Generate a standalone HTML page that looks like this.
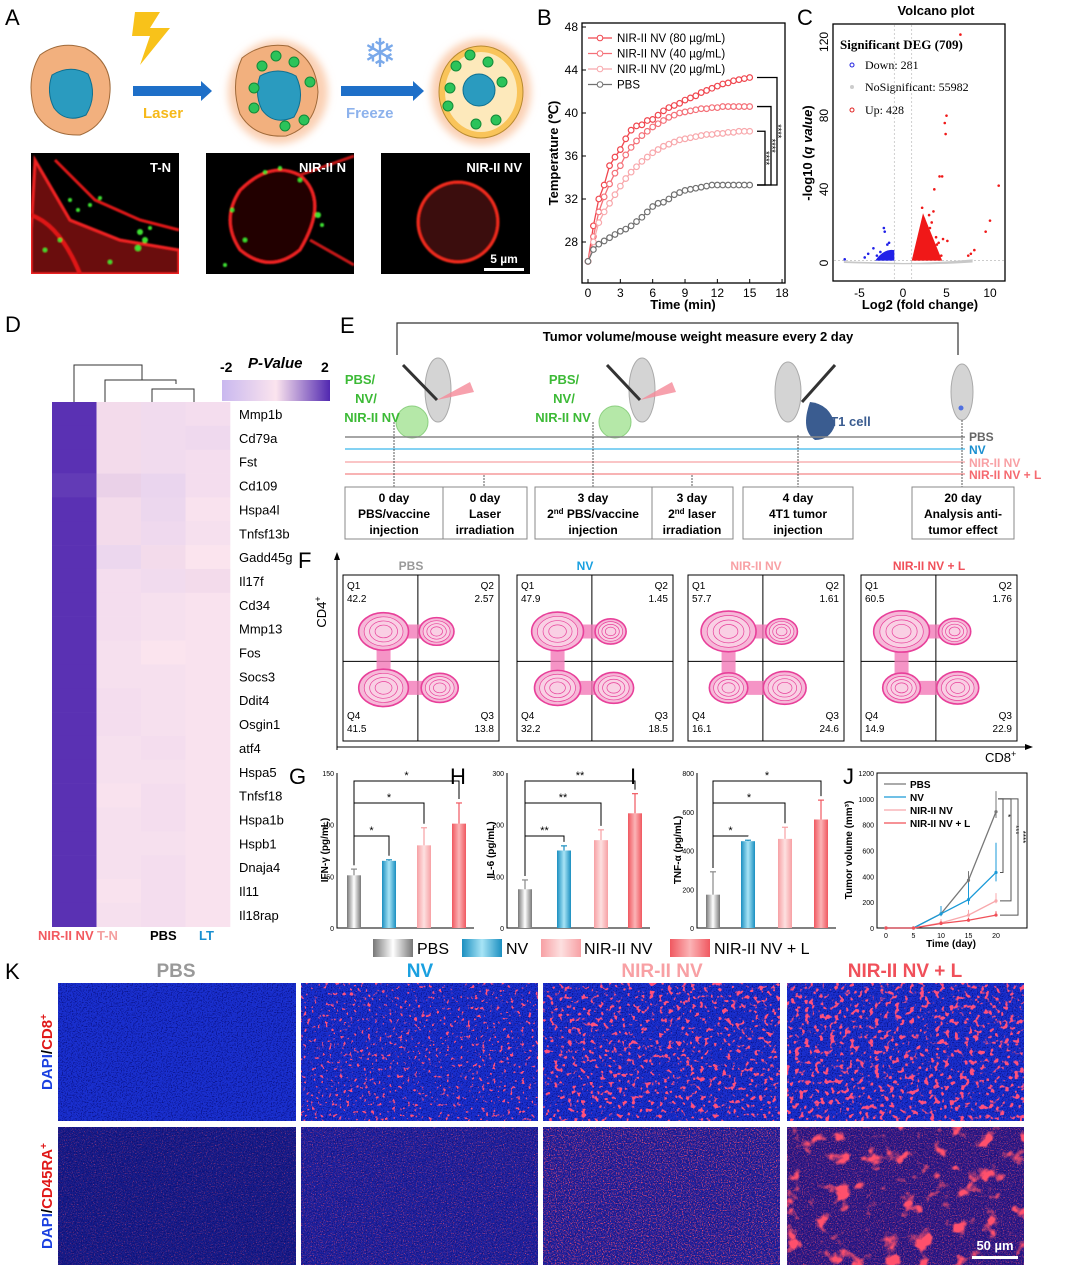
<!DOCTYPE html>
<html><head><meta charset="utf-8"><style>
html,body{margin:0;padding:0;background:#fff;}
svg{display:block;font-family:"Liberation Sans",Arial,sans-serif;}
</style></head><body>
<svg id="fig" width="1065" height="1273" viewBox="0 0 1065 1273" xmlns="http://www.w3.org/2000/svg">
<defs>
<filter id="blur2"><feGaussianBlur stdDeviation="1.6"/></filter>
<filter id="blur1"><feGaussianBlur stdDeviation="0.8"/></filter>
<filter id="glow"><feGaussianBlur stdDeviation="4"/></filter>
<filter id="spots1" x="0" y="0" width="1" height="1"><feTurbulence type="fractalNoise" baseFrequency="0.28" numOctaves="2" seed="4"/><feColorMatrix type="matrix" values="0 0 0 0 1  0 0 0 0 0.08  0 0 0 0 0.2  12 0 0 0 -7.6"/></filter>
<filter id="spots2" x="0" y="0" width="1" height="1"><feTurbulence type="fractalNoise" baseFrequency="0.22" numOctaves="2" seed="7"/><feColorMatrix type="matrix" values="0 0 0 0 1  0 0 0 0 0.08  0 0 0 0 0.2  12 0 0 0 -7.1"/></filter>
<filter id="spots3" x="0" y="0" width="1" height="1"><feTurbulence type="fractalNoise" baseFrequency="0.2" numOctaves="2" seed="9"/><feColorMatrix type="matrix" values="0 0 0 0 1  0 0 0 0 0.08  0 0 0 0 0.2  10 0 0 0 -5.7"/></filter>
<filter id="spots4" x="0" y="0" width="1" height="1"><feTurbulence type="fractalNoise" baseFrequency="0.06" numOctaves="3" seed="11"/><feColorMatrix type="matrix" values="0 0 0 0 1  0 0 0 0 0.08  0 0 0 0 0.15  6 0 0 0 -3.5"/></filter>
<filter id="dark" x="0" y="0" width="1" height="1"><feTurbulence type="fractalNoise" baseFrequency="0.8" numOctaves="1" seed="2"/><feColorMatrix type="matrix" values="0 0 0 0 0  0 0 0 0 0  0 0 0 0 0.1  4 0 0 0 -1.9"/></filter>
<filter id="fine" x="0" y="0" width="1" height="1"><feTurbulence type="fractalNoise" baseFrequency="0.9" numOctaves="1" seed="5"/><feColorMatrix type="matrix" values="0 0 0 0 1  0 0 0 0 0.08  0 0 0 0 0.15  5 0 0 0 -2.9"/></filter>
<filter id="fine2" x="0" y="0" width="1" height="1"><feTurbulence type="fractalNoise" baseFrequency="0.85" numOctaves="1" seed="8"/><feColorMatrix type="matrix" values="0 0 0 0 1  0 0 0 0 0.08  0 0 0 0 0.15  5 0 0 0 -2.6"/></filter>
<linearGradient id="gPBS" x1="0" x2="1"><stop offset="0" stop-color="#777"/><stop offset="0.5" stop-color="#fff"/><stop offset="1" stop-color="#777"/></linearGradient>
<linearGradient id="gNV" x1="0" x2="1"><stop offset="0" stop-color="#1a8fc0"/><stop offset="0.5" stop-color="#a8e4f6"/><stop offset="1" stop-color="#1a8fc0"/></linearGradient>
<linearGradient id="gNIR" x1="0" x2="1"><stop offset="0" stop-color="#f7a0a4"/><stop offset="0.5" stop-color="#fde0e0"/><stop offset="1" stop-color="#f7a0a4"/></linearGradient>
<linearGradient id="gL" x1="0" x2="1"><stop offset="0" stop-color="#f05860"/><stop offset="0.5" stop-color="#fbb4b6"/><stop offset="1" stop-color="#f05860"/></linearGradient>
<linearGradient id="gCbar" x1="0" x2="1"><stop offset="0" stop-color="#c9b8ef"/><stop offset="0.5" stop-color="#fbe4ee"/><stop offset="1" stop-color="#5128b0"/></linearGradient>
</defs>

<!-- PANEL A -->
<g>
<text x="5" y="25" font-size="22">A</text>
<g>
<path d="M40,55 Q60,40 85,48 Q112,62 110,92 Q108,125 80,135 Q48,136 35,112 Q25,80 40,55Z" fill="#f2b07e" stroke="#a06a3a" stroke-width="1"/>
<path d="M52,75 Q70,64 88,74 Q98,95 86,115 Q66,124 54,108 Q46,92 52,75Z" fill="#2a9bbf" stroke="#0d6f90"/>
</g>
<polygon points="135,12 160,12 150,28 170,28 140,65 150,36 132,36" fill="#f8c21a"/>
<rect x="133" y="86" width="68" height="10" fill="#1e6fc8"/><polygon points="201,81 212,91 201,101" fill="#1e6fc8"/>
<text x="143" y="118" font-size="15" font-weight="bold" fill="#f6b91a">Laser</text>
<g>
<ellipse cx="278" cy="92" rx="50" ry="52" fill="#fbd0b4" filter="url(#glow)"/>
<path d="M242,58 Q262,42 288,46 Q316,58 318,92 Q316,126 286,136 Q254,138 240,114 Q230,84 242,58Z" fill="#f2b07e" stroke="#a06a3a"/>
<path d="M260,76 Q278,66 296,76 Q306,97 294,117 Q274,126 262,110 Q254,94 260,76Z" fill="#2a9bbf" stroke="#0d6f90"/>
<g fill="#2cc35a" stroke="#138a38"><circle cx="276" cy="56" r="5"/><circle cx="294" cy="62" r="5"/><circle cx="262" cy="66" r="5"/><circle cx="310" cy="82" r="5"/><circle cx="254" cy="88" r="5"/><circle cx="254" cy="108" r="5"/><circle cx="285" cy="126" r="5"/><circle cx="304" cy="120" r="5"/></g>
</g>
<text x="380" y="67" font-size="40" fill="#7aa9ea" text-anchor="middle">❄</text>
<rect x="341" y="86" width="72" height="10" fill="#1e6fc8"/><polygon points="413,81 424,91 413,101" fill="#1e6fc8"/>
<text x="346" y="118" font-size="15" font-weight="bold" fill="#8db2ec">Freeze</text>
<g>
<ellipse cx="481" cy="92" rx="50" ry="53" fill="#fbd0b4" filter="url(#glow)"/>
<ellipse cx="481" cy="92" rx="42" ry="46" fill="#f9c45a" stroke="#b88a30"/>
<ellipse cx="481" cy="92" rx="36" ry="40" fill="#fde9bb"/>
<circle cx="479" cy="90" r="16" fill="#2a9bbf" stroke="#0d6f90"/>
<g fill="#2cc35a" stroke="#138a38"><circle cx="470" cy="55" r="5"/><circle cx="488" cy="62" r="5"/><circle cx="456" cy="66" r="5"/><circle cx="502" cy="82" r="5"/><circle cx="450" cy="88" r="5"/><circle cx="448" cy="106" r="5"/><circle cx="476" cy="124" r="5"/><circle cx="496" cy="120" r="5"/></g>
</g>
<g>
<rect x="31" y="153" width="148" height="121" fill="#000"/>
<clipPath id="cpA1"><rect x="31" y="153" width="148" height="121"/></clipPath>
<g clip-path="url(#cpA1)" filter="url(#blur1)">
<path d="M35,160 L70,220 L120,240 L179,250 L179,274 L31,274 L31,230 Z" fill="#6a0c0c" stroke="#f02020" stroke-width="3"/>
<path d="M55,160 L95,200 L140,220 L179,230" fill="none" stroke="#e01818" stroke-width="3"/>
<path d="M31,215 Q60,225 80,274" fill="none" stroke="#e01818" stroke-width="4"/>
<g fill="#3ee030"><circle cx="70" cy="200" r="2"/><circle cx="78" cy="210" r="2"/><circle cx="90" cy="205" r="2"/><circle cx="140" cy="232" r="3"/><circle cx="145" cy="240" r="3"/><circle cx="150" cy="228" r="2"/><circle cx="60" cy="240" r="2"/><circle cx="45" cy="250" r="2"/><circle cx="110" cy="262" r="2"/><circle cx="138" cy="248" r="3"/><circle cx="100" cy="198" r="2"/></g>
</g>
<text x="171" y="172" font-size="13" font-weight="bold" fill="#fff" text-anchor="end">T-N</text>
</g>
<g>
<rect x="206" y="153" width="148" height="121" fill="#000"/>
<clipPath id="cpA2"><rect x="206" y="153" width="148" height="121"/></clipPath>
<g clip-path="url(#cpA2)" filter="url(#blur1)">
<path d="M240,190 Q270,160 300,175 Q330,200 300,250 Q270,275 240,250 Q220,220 240,190Z" fill="#200404" stroke="#f02020" stroke-width="3"/>
<path d="M300,175 L354,156 M310,240 L354,265" stroke="#c81414" stroke-width="3" fill="none"/>
<g fill="#3ee030"><circle cx="265" cy="172" r="2"/><circle cx="280" cy="168" r="2"/><circle cx="300" cy="180" r="2"/><circle cx="318" cy="215" r="3"/><circle cx="322" cy="225" r="2"/><circle cx="232" cy="210" r="2"/><circle cx="245" cy="240" r="2"/><circle cx="225" cy="265" r="2"/></g>
</g>
<text x="346" y="172" font-size="13" font-weight="bold" fill="#fff" text-anchor="end">NIR-II N</text>
</g>
<g>
<rect x="381" y="153" width="149" height="121" fill="#000"/>
<circle cx="458" cy="222" r="40" fill="#3a0808" stroke="#f02a1a" stroke-width="3" filter="url(#blur1)"/>
<text x="522" y="172" font-size="13" font-weight="bold" fill="#fff" text-anchor="end">NIR-II NV</text>
<text x="504" y="263" font-size="12" font-weight="bold" fill="#fff" text-anchor="middle">5 µm</text>
<rect x="484" y="268" width="40" height="3" fill="#fff"/>
</g>
</g>

<!-- PANEL B -->
<g id="panelB">
<text x="537" y="25" font-size="22">B</text>
<rect x="582" y="23" width="203" height="260" fill="none" stroke="#000" stroke-width="1.3"/>
<text x="0" y="0" transform="translate(558,153) rotate(-90)" font-size="13" font-weight="bold" text-anchor="middle">Temperature (℃)</text>
<text x="683" y="309" font-size="13" font-weight="bold" text-anchor="middle">Time (min)</text>
</g>

<!-- PANEL C -->
<g id="panelC">
<text x="797" y="25" font-size="22">C</text>
<text x="936" y="15" font-size="13" font-weight="bold" text-anchor="middle">Volcano plot</text>
<rect x="833" y="24" width="172" height="257" fill="none" stroke="#000" stroke-width="1.3"/>
<text transform="translate(812,153) rotate(-90)" font-size="13" font-weight="bold" text-anchor="middle">-log10 (<tspan font-style="italic">q value</tspan>)</text>
<text x="920" y="309" font-size="13" font-weight="bold" text-anchor="middle">Log2 (fold change)</text>
<text x="840" y="49" font-family="Liberation Serif,serif" font-size="13" font-weight="bold">Significant DEG (709)</text>
<circle cx="852" cy="65" r="2" fill="none" stroke="#2020e0"/><text x="865" y="69" font-family="Liberation Serif,serif" font-size="12">Down: 281</text>
<circle cx="852" cy="87" r="2" fill="#ccc"/><text x="865" y="91" font-family="Liberation Serif,serif" font-size="12">NoSignificant: 55982</text>
<circle cx="852" cy="110" r="2" fill="none" stroke="#e02020"/><text x="865" y="114" font-family="Liberation Serif,serif" font-size="12">Up: 428</text>
</g>

<!-- PANEL D -->
<g id="panelD">
<text x="5" y="332" font-size="22">D</text>
<g fill="none" stroke="#333" stroke-width="1">
<path d="M74,402 V365 H142 V380"/><path d="M105,402 V380 H176 V384"/><path d="M152,402 V389 H194 V402"/>
</g>
<rect x="222" y="380" width="108" height="21" fill="url(#gCbar)"/>
<text x="220" y="372" font-size="14" font-weight="bold">-2</text>
<text x="248" y="368" font-size="15" font-weight="bold" font-style="italic">P-Value</text>
<text x="321" y="372" font-size="14" font-weight="bold">2</text>
<text x="38" y="940" font-size="13" font-weight="bold" fill="#f25a60">NIR-II NV</text>
<text x="97" y="940" font-size="13" font-weight="bold" fill="#f4a0a0">T-N</text>
<text x="150" y="940" font-size="13" font-weight="bold">PBS</text>
<text x="199" y="940" font-size="13" font-weight="bold" fill="#1a8fd0">LT</text>
</g>

<!-- PANEL E -->
<g>
<text x="340" y="333" font-size="22">E</text>
<path d="M397,355 V323 H958 V355" fill="none" stroke="#333" stroke-width="1.2"/>
<text x="698" y="341" font-size="13" font-weight="bold" text-anchor="middle">Tumor volume/mouse weight measure every 2 day</text>
<g fill="#d4d4d4" stroke="#aaa">
<ellipse cx="438" cy="390" rx="13" ry="32"/><ellipse cx="642" cy="390" rx="13" ry="32"/><ellipse cx="788" cy="392" rx="13" ry="30"/><ellipse cx="962" cy="392" rx="11" ry="28"/>
</g>
<g stroke="#333" stroke-width="3"><line x1="403" y1="365" x2="437" y2="400"/><line x1="607" y1="365" x2="640" y2="400"/><line x1="835" y1="365" x2="802" y2="402"/></g>
<g fill="#f58a98" opacity="0.8"><polygon points="437,400 470,382 474,392"/><polygon points="640,400 672,382 676,392"/></g>
<g fill="#b5e8a8" stroke="#8cd080"><circle cx="412" cy="422" r="16"/><circle cx="615" cy="422" r="16"/></g>
<path d="M810,402 Q830,404 835,425 Q830,440 815,440 Q800,430 810,402Z" fill="#3a5c90"/>
<circle cx="961" cy="408" r="2.5" fill="#5070e0"/>
<text x="823" y="426" font-size="13" font-weight="bold" fill="#3a5c90">4T1 cell</text>
<g font-size="13" font-weight="bold" fill="#3cba36" text-anchor="middle">
<text x="360" y="384" text-anchor="middle">PBS/</text><text x="366" y="403">NV/</text><text x="372" y="422">NIR-II NV</text>
<text x="564" y="384">PBS/</text><text x="564" y="403">NV/</text><text x="563" y="422">NIR-II NV</text></g>
<line x1="345" y1="437" x2="965" y2="437" stroke="#888" stroke-width="1.4"/>
<line x1="345" y1="449" x2="965" y2="449" stroke="#5cc4ef" stroke-width="1.4"/>
<line x1="345" y1="462" x2="965" y2="462" stroke="#f8b2b4" stroke-width="1.4"/>
<line x1="345" y1="474" x2="965" y2="474" stroke="#f59a9c" stroke-width="1.4"/>
<g font-size="12" font-weight="bold">
<text x="969" y="441" fill="#666">PBS</text><text x="969" y="454" fill="#1a8fd0">NV</text><text x="969" y="467" fill="#f8a0a4">NIR-II NV</text><text x="969" y="479" fill="#f56a70">NIR-II NV + L</text></g>
<g stroke="#333" stroke-dasharray="2,1" stroke-width="0.8"><line x1="394" y1="422" x2="394" y2="487"/><line x1="484" y1="475" x2="484" y2="487"/><line x1="593" y1="422" x2="593" y2="487"/><line x1="692" y1="475" x2="692" y2="487"/><line x1="798" y1="435" x2="798" y2="487"/><line x1="962" y1="420" x2="962" y2="487"/></g>
<g fill="#fff" stroke="#888" stroke-width="1">
<rect x="345" y="487" width="98" height="52"/><rect x="443" y="487" width="84" height="52"/><rect x="535" y="487" width="117" height="52"/><rect x="652" y="487" width="81" height="52"/><rect x="743" y="487" width="110" height="52"/><rect x="912" y="487" width="102" height="52"/></g>
<g font-size="12" font-weight="bold" text-anchor="middle">
<text x="394" y="502">0 day</text><text x="394" y="518">PBS/vaccine</text><text x="394" y="534">injection</text>
<text x="485" y="502">0 day</text><text x="485" y="518">Laser</text><text x="485" y="534">irradiation</text>
<text x="593" y="502">3 day</text><text x="593" y="518">2<tspan font-size="8" dy="-4">nd</tspan><tspan dy="4"> PBS/vaccine</tspan></text><text x="593" y="534">injection</text>
<text x="692" y="502">3 day</text><text x="692" y="518">2<tspan font-size="8" dy="-4">nd</tspan><tspan dy="4"> laser</tspan></text><text x="692" y="534">irradiation</text>
<text x="798" y="502">4 day</text><text x="798" y="518">4T1 tumor</text><text x="798" y="534">injection</text>
<text x="963" y="502">20 day</text><text x="963" y="518">Analysis anti-</text><text x="963" y="534">tumor effect</text></g>
</g>

<!-- PANEL F -->
<g id="panelF">
<text x="298" y="568" font-size="22">F</text>
<line x1="337" y1="750" x2="337" y2="558" stroke="#000"/><polygon points="334,560 337,552 340,560"/>
<line x1="337" y1="747" x2="1027" y2="747" stroke="#000"/><polygon points="1025,744 1033,747 1025,750"/>
<text transform="translate(326,612) rotate(-90)" font-size="13" text-anchor="middle">CD4<tspan font-size="9" dy="-5">+</tspan></text>
<text x="985" y="762" font-size="13">CD8<tspan font-size="9" dy="-5">+</tspan></text>
</g>

<!-- PANELS G H I J -->
<g id="panelBars">
<text x="289" y="784" font-size="22">G</text>
<text x="450" y="784" font-size="22">H</text>
<text x="630" y="784" font-size="22">I</text>
<text x="843" y="784" font-size="22">J</text>
</g>
<g>
<rect x="373" y="939" width="40" height="18" fill="url(#gPBS)"/><text x="417" y="954" font-size="16">PBS</text>
<rect x="462" y="939" width="40" height="18" fill="url(#gNV)"/><text x="506" y="954" font-size="16">NV</text>
<rect x="541" y="939" width="40" height="18" fill="url(#gNIR)"/><text x="584" y="954" font-size="16">NIR-II NV</text>
<rect x="670" y="939" width="40" height="18" fill="url(#gL)"/><text x="714" y="954" font-size="16">NIR-II NV + L</text>
</g>

<!-- PANEL K -->
<g>
<text x="5" y="979" font-size="22">K</text>
<g font-size="19" font-weight="bold" text-anchor="middle">
<text x="176" y="977" fill="#999">PBS</text>
<text x="420" y="977" fill="#1aa0e0">NV</text>
<text x="662" y="977" fill="#f8a0a4">NIR-II NV</text>
<text x="905" y="977" fill="#f0505a">NIR-II NV + L</text></g>
<text transform="translate(52,1052) rotate(-90)" font-size="15" font-weight="bold" text-anchor="middle"><tspan fill="#1a40e0">DAPI</tspan>/<tspan fill="#e01818">CD8<tspan font-size="10" dy="-5">+</tspan></tspan></text>
<text transform="translate(52,1196) rotate(-90)" font-size="15" font-weight="bold" text-anchor="middle"><tspan fill="#1a40e0">DAPI</tspan>/<tspan fill="#e01818">CD45RA<tspan font-size="10" dy="-5">+</tspan></tspan></text>
<g><rect x="58" y="983" width="238" height="138" fill="#1a30d0"/><rect x="58" y="983" width="238" height="138" filter="url(#dark)" opacity="0.6"/></g>
<g><rect x="301" y="983" width="237" height="138" fill="#1a30d0"/><rect x="301" y="983" width="237" height="138" filter="url(#dark)" opacity="0.6"/><rect x="301" y="983" width="237" height="138" filter="url(#spots1)"/></g>
<g><rect x="543" y="983" width="237" height="138" fill="#1a30d0"/><rect x="543" y="983" width="237" height="138" filter="url(#dark)" opacity="0.6"/><rect x="543" y="983" width="237" height="138" filter="url(#spots2)"/></g>
<g><rect x="787" y="983" width="237" height="138" fill="#1a30d0"/><rect x="787" y="983" width="237" height="138" filter="url(#dark)" opacity="0.6"/><rect x="787" y="983" width="237" height="138" filter="url(#spots3)"/></g>
<g><rect x="58" y="1127" width="238" height="138" fill="#161c8a"/><rect x="58" y="1127" width="238" height="138" filter="url(#dark)" opacity="0.5"/><rect x="58" y="1127" width="238" height="138" filter="url(#fine)" opacity="0.6"/></g>
<g><rect x="301" y="1127" width="237" height="138" fill="#1e22a0"/><rect x="301" y="1127" width="237" height="138" filter="url(#dark)" opacity="0.5"/><rect x="301" y="1127" width="237" height="138" filter="url(#fine)" opacity="0.85"/></g>
<g><rect x="543" y="1127" width="237" height="138" fill="#1e22a0"/><rect x="543" y="1127" width="237" height="138" filter="url(#dark)" opacity="0.5"/><rect x="543" y="1127" width="237" height="138" filter="url(#fine2)" opacity="0.85"/></g>
<g><rect x="787" y="1127" width="237" height="138" fill="#2a1a8a"/><rect x="787" y="1127" width="237" height="138" filter="url(#dark)" opacity="0.5"/><rect x="787" y="1127" width="237" height="138" filter="url(#spots4)"/><rect x="787" y="1127" width="237" height="138" filter="url(#fine2)" opacity="0.6"/></g>
<text x="995" y="1250" font-size="13" font-weight="bold" fill="#fff" text-anchor="middle">50 µm</text>
<rect x="972" y="1256" width="46" height="3" fill="#fff"/>
</g>
</svg>
<script>
const NS='http://www.w3.org/2000/svg';
const svg=document.getElementById('fig');
function mk(parent,tag,attrs,txt){const e=document.createElementNS(NS,tag);for(const k in attrs)e.setAttribute(k,attrs[k]);if(txt!==undefined)e.textContent=txt;parent.appendChild(e);return e;}

/* ---- Panel B data ---- */
const bTimes=[0,0.5,1,1.5,2,2.5,3,3.5,4,4.5,5,5.5,6,6.5,7,7.5,8,8.5,9,9.5,10,10.5,11,11.5,12,12.5,13,13.5,14,14.5,15];
const bT80=[26.2,29.5,32,33.3,35.1,35.9,36.6,37.6,38.4,38.8,38.9,39.3,39.4,39.8,40.2,40.5,40.7,40.9,41.2,41.4,41.6,41.9,42.1,42.3,42.5,42.7,42.8,43.0,43.1,43.2,43.3];
const bT40=[26.2,28.5,30.8,32.2,33.4,34.4,35.1,36.1,36.8,37.4,37.9,38.3,38.7,39.0,39.3,39.6,39.8,40.0,40.1,40.2,40.3,40.4,40.4,40.5,40.5,40.6,40.6,40.6,40.6,40.6,40.6];
const bT20=[26.2,28.0,29.8,30.8,31.6,32.4,33.2,33.9,34.5,35.0,35.5,35.9,36.3,36.6,36.9,37.1,37.3,37.5,37.6,37.7,37.8,37.9,38.0,38.0,38.1,38.1,38.2,38.2,38.3,38.3,38.3];
const bTPBS=[26.2,27.3,27.8,28.1,28.4,28.7,29.0,29.2,29.5,29.9,30.3,30.8,31.3,31.6,31.7,32.0,32.4,32.6,32.8,32.9,33.0,33.1,33.2,33.3,33.3,33.3,33.3,33.3,33.3,33.3,33.3];
const bSeriesNames=['NIR-II NV (80 µg/mL)','NIR-II NV (40 µg/mL)','NIR-II NV (20 µg/mL)','PBS'];
const bXTicks=[0,3,6,9,12,15,18];
const bYTicks=[28,32,36,40,44,48];

/* ---- Panel C data ---- */
const cXTicks=[-5,0,5,10];
const cYTicks=[0,40,80,120];
const cUpX=[6.6,5.0,4.8,4.9,11.0,10.0,9.5,4.5,4.2,3.6,3.5,3.0,3.3,2.6,2.8,3.8,4.6,5.1,4.1,3.9,8.2,7.5,7.8,4.4,3.1,2.4,2.2];
const cUpY=[124,80,76,70,42,23,17,47,47,40,28,26,22,20,17,14,13,12,11,10,7,4,5,4,19,24,30];
const cDownX=[-2.2,-2.1,-1.6,-1.8,-3.4,-4.0,-4.4,-6.7,-3.0,-2.6];
const cDownY=[19,17,11,10,8,5,3,2,4,6];

/* ---- Panel D data ---- */
const dGenes=['Mmp1b','Cd79a','Fst','Cd109','Hspa4l','Tnfsf13b','Gadd45g','Il17f','Cd34','Mmp13','Fos','Socs3','Ddit4','Osgin1','atf4','Hspa5','Tnfsf18','Hspa1b','Hspb1','Dnaja4','Il11','Il18rap'];
const dColNIR=[1.9,1.9,1.9,1.8,1.9,1.9,1.9,1.9,1.9,1.9,1.9,1.9,1.9,1.9,1.9,1.9,1.9,1.9,1.9,1.9,1.9,1.9];
const dColTN=[0.1,0.1,0.1,0.2,0.1,0.1,-0.6,-0.3,-0.3,-0.3,-0.2,-0.2,-0.3,-0.3,-0.2,-0.2,-0.1,-0.2,-0.2,-0.2,-0.1,-0.2];
const dColPBS=[-0.4,-0.4,-0.4,-0.7,-0.6,-0.5,0.1,-0.4,-0.2,-0.2,0.0,-0.2,-0.2,-0.2,-0.3,-0.2,-0.3,-0.3,-0.2,-0.3,-0.3,-0.3];
const dColLT=[-0.3,-0.5,-0.3,-0.3,-0.1,-0.2,0.0,0.1,-0.1,-0.1,-0.1,-0.1,-0.1,-0.1,-0.1,-0.1,-0.1,-0.1,-0.1,-0.1,-0.1,-0.1];

/* ---- Panel F data ---- */
const fGroups=['PBS','NV','NIR-II NV','NIR-II NV + L'];
const fQ1=[42.2,47.9,57.7,60.5];
const fQ2=[2.57,1.45,1.61,1.76];
const fQ3=[13.8,18.5,24.6,22.9];
const fQ4=[41.5,32.2,16.1,14.9];

/* ---- Panels G H I data ---- */
const gIFN=[51,65,80,101];
const gIFNerr=[6,1,17,20];
const hIL6=[75,150,170,222];
const hIL6err=[18,9,20,38];
const iTNF=[172,448,460,560];
const iTNFerr=[118,5,60,100];

/* ---- Panel J data ---- */
const jDays=[0,5,10,15,20];
const jPBS=[0,0,110,370,900];
const jNV=[0,0,110,220,430];
const jNIR=[0,0,40,100,210];
const jNIRL=[0,0,35,60,100];
const jPBSerr=[0,0,60,70,160];
const jNVerr=[0,0,60,130,230];
const jNIRerr=[0,0,30,40,60];
const jNIRLerr=[0,0,20,20,30];
const jNames=['PBS','NV','NIR-II NV','NIR-II NV + L'];

/* ===== Draw B ===== */
(function(){
const g=document.getElementById('panelB');
const bx=t=>588+t*10.78, by=v=>27+(48-v)*10.75;
bXTicks.forEach(t=>{
 const tk=mk(g,'line',{x1:bx(t),x2:bx(t),y1:283,y2:279,stroke:'#000'});
 
 
 const l=mk(g,'text',{x:bx(t),y:297,'font-size':12,'text-anchor':'middle'},t);
 
 
});
bYTicks.forEach(v=>{
 const tk=mk(g,'line',{x1:582,x2:586,y1:by(v),y2:by(v),stroke:'#000'});
 
 
 const l=mk(g,'text',{x:578,y:by(v)+4,'font-size':12,'text-anchor':'end'},v);
 
 
});
const series=[bT80,bT40,bT20,bTPBS];
const cols=['#f0464e','#f47078','#f8a8ac','#707070'];
series.forEach((s,i)=>{
 const pts=s.map((v,j)=>bx(bTimes[j])+','+by(v)).join(' ');
 const pl=mk(g,'polyline',{points:pts,fill:'none',stroke:cols[i],'stroke-width':1.3});
 
 
 s.forEach((v,j)=>{
  const c=mk(g,'circle',{cx:bx(bTimes[j]),cy:by(v),r:2.8,fill:'#fff',stroke:cols[i],'stroke-width':1.2});
  
  
 });
 const ly=38+i*15.5;
 const ll=mk(g,'line',{x1:588,x2:612,y1:ly,y2:ly,stroke:cols[i],'stroke-width':1.3});
 
 
 const lc=mk(g,'circle',{cx:600,cy:ly,r:2.8,fill:'#fff',stroke:cols[i]});
 
 
 const lt=mk(g,'text',{x:617,y:ly+4,'font-size':11.5},bSeriesNames[i]);
 
 
});
const endY=[bT80,bT40,bT20].map(s=>by(s[s.length-1]));
const pbsY=by(bTPBS[bTPBS.length-1]);
const xs=[777,771,765];
endY.forEach((y,i)=>{
 const p=mk(g,'path',{d:`M757,${y} H${xs[i]} V${pbsY} H757`,fill:'none',stroke:'#000','stroke-width':1.3});
 
 
 const s=mk(g,'text',{transform:`translate(${xs[i]-2},${(y+pbsY)/2}) rotate(90)`,'font-size':9,'text-anchor':'middle'},'****');
 
 
});
})();

/* ===== Draw C ===== */
(function(){
const g=document.getElementById('panelC');
const cx=v=>903+v*8.7, cy=v=>263-v*1.842;
cXTicks.forEach(t=>{
 const l=mk(g,'text',{x:cx(t),y:297,'font-size':12,'text-anchor':'middle'},t);
 
 
});
cYTicks.forEach(v=>{
 const l=mk(g,'text',{transform:`translate(828,${cy(v)}) rotate(-90)`,'font-size':12,'text-anchor':'middle'},v);
 
 
});
[[-1,'v'],[1,'v']].forEach(a=>{
 const ln=mk(g,'line',{x1:cx(a[0]),x2:cx(a[0]),y1:25,y2:280,stroke:'#bbb','stroke-dasharray':'2,2','stroke-width':0.7});
 
 
});
const hl=mk(g,'line',{x1:834,x2:1004,y1:cy(1.3),y2:cy(1.3),stroke:'#bbb','stroke-dasharray':'2,2','stroke-width':0.7});


const ns=mk(g,'path',{d:`M${cx(-6.8)},${cy(1)} Q${cx(-3)},${cy(0.3)} ${cx(0)},${cy(0)} Q${cx(4)},${cy(0.2)} ${cx(8)},${cy(2)} L${cx(8)},${cy(0.3)} Q${cx(3)},${cy(-1.5)} ${cx(-6.8)},${cy(0)}Z`,fill:'#c8c8c8'});


const upc=mk(g,'path',{d:`M${cx(1)},${cy(1.3)} L${cx(2.3)},${cy(27)} L${cx(4.5)},${cy(1.3)}Z`,fill:'#f01818'});


const dnc=mk(g,'path',{d:`M${cx(-3.2)},${cy(1.3)} Q${cx(-2.2)},${cy(8)} ${cx(-1)},${cy(7)} L${cx(-1)},${cy(1.3)}Z`,fill:'#2020e8'});


cUpX.forEach((x,i)=>{
 const p=mk(g,'circle',{cx:cx(x),cy:cy(cUpY[i]),r:1.3,fill:'#f01818'});
 
 
});
cDownX.forEach((x,i)=>{
 const p=mk(g,'circle',{cx:cx(x),cy:cy(cDownY[i]),r:1.3,fill:'#2020e8'});
 
 
});
})();

/* ===== Draw D ===== */
(function(){
const g=document.getElementById('panelD');
function lerp(a,b,t){return a.map((v,i)=>Math.round(v+(b[i]-v)*t));}
function color(v){const lo=[201,184,239],mid=[251,228,238],hi=[81,40,176];
 const c=v<0?lerp(mid,lo,Math.min(1,-v/2)):lerp(mid,hi,Math.min(1,v/2));return `rgb(${c})`;}
const cols=[dColNIR,dColTN,dColPBS,dColLT];
const x0=52,cw=44.5,y0=402,rh=23.85;
cols.forEach((col,ci)=>col.forEach((v,ri)=>{
 const r=mk(g,'rect',{x:x0+ci*cw,y:y0+ri*rh,width:cw+0.3,height:rh+0.3,fill:color(v)});
 
 
}));
dGenes.forEach((gn,ri)=>{
 const t=mk(g,'text',{x:239,y:y0+ri*rh+17,'font-size':13},gn);
 
 
});
})();

/* ===== Draw F ===== */
(function(){
const g=document.getElementById('panelF');
const px=[343,517,688,861], pw=156, py=575, ph=166;
const titleCol=['#999','#1aa0e0','#f8a0a4','#f0505a'];
fGroups.forEach((name,i)=>{
 const x=px[i];
 const t=mk(g,'text',{x:x+pw/2-10,y:570,'font-size':12,'font-weight':'bold','text-anchor':'middle',fill:titleCol[i]},name);
 
 
 const fr=mk(g,'rect',{x:x,y:py,width:pw,height:ph,fill:'#fff',stroke:'#000','stroke-width':1});
 
 
 const qx=x+pw*0.48, qy=py+ph*0.52;
 const vl=mk(g,'line',{x1:qx,x2:qx,y1:py,y2:py+ph,stroke:'#000'});
 
 
 const hl=mk(g,'line',{x1:x,x2:x+pw,y1:qy,y2:qy,stroke:'#000'});
 
 
 const pops=[[x+pw*0.26,py+ph*0.34,fQ1[i]],[x+pw*0.26,py+ph*0.68,fQ4[i]],[x+pw*0.62,py+ph*0.68,fQ3[i]],[x+pw*0.6,py+ph*0.34,fQ2[i]*4]];
 const br1=mk(g,'path',{d:`M${pops[0][0]},${pops[0][1]} L${pops[1][0]},${pops[1][1]} L${pops[2][0]},${pops[2][1]} M${pops[0][0]},${pops[0][1]} L${pops[3][0]},${pops[3][1]}`,stroke:'#f279b8','stroke-width':14,fill:'none','stroke-linecap':'round',opacity:0.8});
 
 
 pops.forEach(p=>{
  const rx=10+Math.sqrt(p[2])*2.3, ry=9+Math.sqrt(p[2])*1.5;
  for(let k=0;k<4;k++){
   const e=mk(g,'ellipse',{cx:p[0],cy:p[1],rx:rx*(1-k*0.22),ry:ry*(1-k*0.22),fill:k===0?'#f6b8d8':'#f9d0e4',stroke:'#e8409a','stroke-width':k===0?1.6:0.7});
   
   
  }
 });
 const labels=[['Q1',x+4,py+14,'start'],['Q2',x+pw-5,py+14,'end'],['Q4',x+4,py+ph-22,'start'],['Q3',x+pw-5,py+ph-22,'end']];
 const vals=[fQ1[i],fQ2[i],fQ4[i],fQ3[i]];
 labels.forEach((l,k)=>{
  const a=mk(g,'text',{x:l[1],y:l[2],'font-size':10,'text-anchor':l[3]},l[0]);
  
  
  const b=mk(g,'text',{x:l[1],y:l[2]+13,'font-size':10,'text-anchor':l[3]},vals[k]);
  
  
 });
});
})();

/* ===== Draw G H I ===== */
(function(){
const g=document.getElementById('panelBars');
const fills=['url(#gPBS)','url(#gNV)','url(#gNIR)','url(#gL)'];
const errc=['#888','#1a8fc0','#f7a0a4','#f05860'];
const panels=[
 {ax:337,bars:[347,382,417,452],max:150,ticks:[0,50,100,150],vals:gIFN,err:gIFNerr,title:'IFN-γ (pg/mL)',stars:['*','*','*'],tx:328},
 {ax:507,bars:[518,557,594,628],max:300,ticks:[0,100,200,300],vals:hIL6,err:hIL6err,title:'IL-6 (pg/mL)',stars:['**','**','**'],tx:494},
 {ax:697,bars:[706,741,778,814],max:800,ticks:[0,200,400,600,800],vals:iTNF,err:iTNFerr,title:'TNF-α (pg/mL)',stars:['*','*','*'],tx:681}];
panels.forEach((p,pi)=>{
 const y=v=>928-v/p.max*155;
 const ax=mk(g,'path',{d:`M${p.ax},773 V928 H${p.bars[3]+22}`,fill:'none',stroke:'#000','stroke-width':1});
 
 
 p.ticks.forEach(t=>{
  const l=mk(g,'text',{x:p.ax-3,y:y(t)+3,'font-size':7,'text-anchor':'end'},t);
  
  
 });
 const tt=mk(g,'text',{transform:`translate(${p.tx},850) rotate(-90)`,'font-size':10,'font-weight':'bold','text-anchor':'middle'},p.title);
 
 
 p.vals.forEach((v,i)=>{
  const bx=p.bars[i];
  const r=mk(g,'rect',{x:bx,y:y(v),width:14,height:928-y(v),fill:fills[i]});
  
  
  const e=mk(g,'line',{x1:bx+7,x2:bx+7,y1:y(v),y2:y(v+p.err[i]),stroke:errc[i],'stroke-width':1.2});
  
  
  const ec=mk(g,'line',{x1:bx+4,x2:bx+10,y1:y(v+p.err[i]),y2:y(v+p.err[i]),stroke:errc[i],'stroke-width':1.2});
  
  
 });
 const sy=[836,803,781];
 [1,2,3].forEach((k,j)=>{
  const x1=p.bars[0]+7,x2=p.bars[k]+7;
  const tops=[p.vals[0]+p.err[0],p.vals[k]+p.err[k]];
  const br=mk(g,'path',{d:`M${x1},${y(tops[0])-4} V${sy[j]} H${x2} V${y(tops[1])-4}`,fill:'none',stroke:'#000','stroke-width':1});
  
  
  const st=mk(g,'text',{x:(x1+x2)/2,y:sy[j]-2,'font-size':11,'text-anchor':'middle'},p.stars[j]);
  
  
 });
});

/* J */
const jx=d=>886+d*5.5, jy=v=>928-v/1200*155;
const fr=mk(g,'rect',{x:877,y:773,width:150,height:155,fill:'none',stroke:'#000'});


jDays.forEach(d=>{
 const l=mk(g,'text',{x:jx(d),y:938,'font-size':7,'text-anchor':'middle'},d);
 
 
});
[0,200,400,600,800,1000,1200].forEach(v=>{
 const l=mk(g,'text',{x:874,y:jy(v)+3,'font-size':7,'text-anchor':'end'},v);
 
 
});
const xt=mk(g,'text',{x:951,y:947,'font-size':10,'font-weight':'bold','text-anchor':'middle'},'Time (day)');


const yt=mk(g,'text',{transform:'translate(852,850) rotate(-90)','font-size':10,'font-weight':'bold','text-anchor':'middle'},'Tumor volume (mm³)');


const js=[jPBS,jNV,jNIR,jNIRL], je=[jPBSerr,jNVerr,jNIRerr,jNIRLerr];
const jc=['#777','#1a9ad8','#f8a8ac','#f05058'];
js.forEach((s,i)=>{
 s.forEach((v,k)=>{
  if(je[i][k]>0){
   const e=mk(g,'line',{x1:jx(jDays[k]),x2:jx(jDays[k]),y1:jy(v-je[i][k]*0.3),y2:jy(v+je[i][k]),stroke:jc[i],'stroke-width':1});
   
   
  }
 });
 const pl=mk(g,'polyline',{points:s.map((v,k)=>jx(jDays[k])+','+jy(v)).join(' '),fill:'none',stroke:jc[i],'stroke-width':1.3});
 
 
 s.forEach((v,k)=>{
  const c=mk(g,'circle',{cx:jx(jDays[k]),cy:jy(v),r:1.6,fill:jc[i]});
  
  
 });
 const ly=784+i*13;
 const ll=mk(g,'line',{x1:884,x2:906,y1:ly,y2:ly,stroke:jc[i],'stroke-width':1.3});
 
 
 const lt=mk(g,'text',{x:910,y:ly+4,'font-size':10,'font-weight':'bold'},jNames[i]);
 
 
});
const bx=[1003,1011,1018];
const targ=[jNV,jNIR,jNIRL];
targ.forEach((s,i)=>{
 const p=mk(g,'path',{d:`M998,${jy(1000)} H${bx[i]} V${jy(s[4])} H1000`,fill:'none',stroke:'#555','stroke-width':1});
 
 
 const st=mk(g,'text',{transform:`translate(${bx[i]+2},${(jy(1000)+jy(s[4]))/2-20}) rotate(90)`,'font-size':8,'text-anchor':'middle'},['*','***','****'][i]);
 
 
});
})();
</script>
</body></html>
